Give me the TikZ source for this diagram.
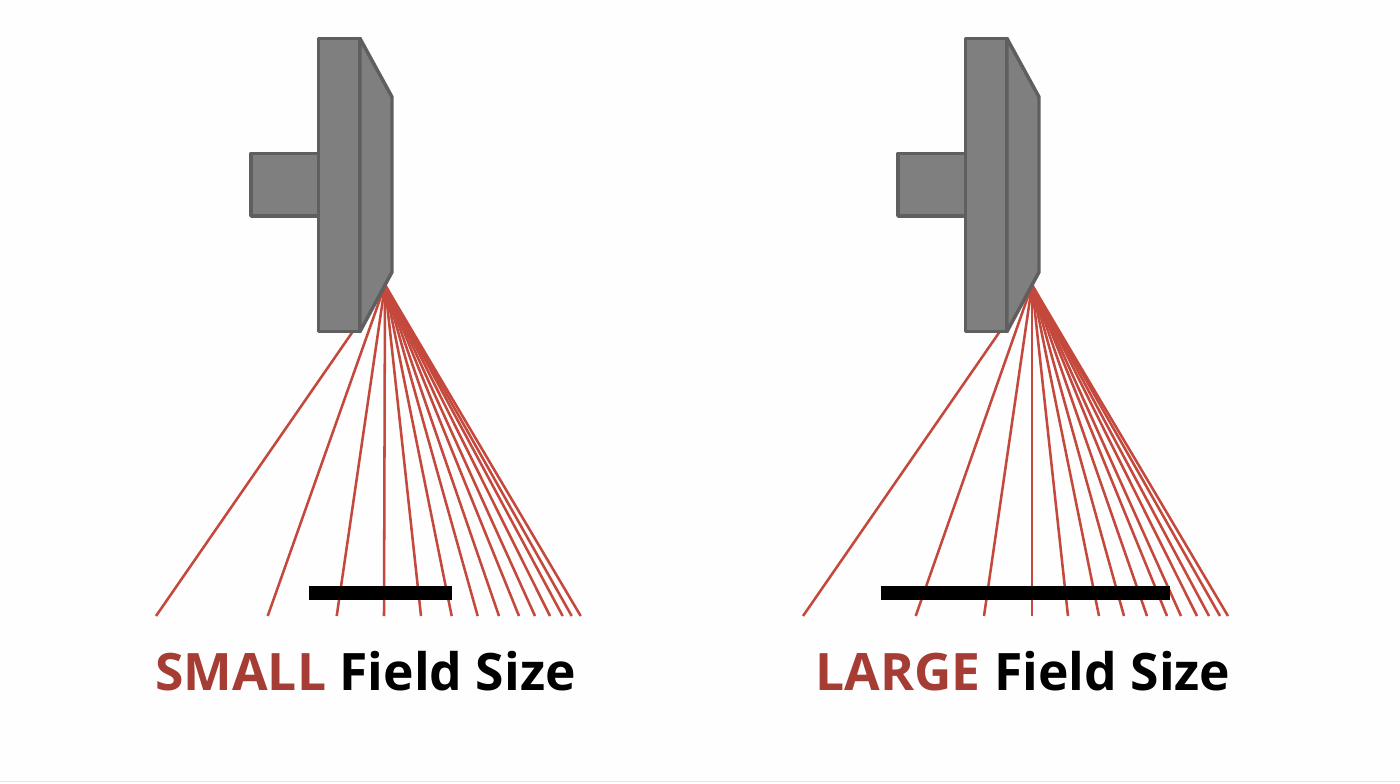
\documentclass[tikz,border=0pt]{standalone}
\usepackage{fontspec}
\setmainfont{Open Sans}
\definecolor{raycol}{HTML}{C4483C}
\definecolor{wordred}{HTML}{A53D35}
\definecolor{headfill}{HTML}{7F7F7F}
\definecolor{headline}{HTML}{5F5F5F}
\definecolor{pagebg}{HTML}{FEFEFE}
\definecolor{rulecol}{HTML}{E4E4E4}
\tikzset{
  x=0.75pt,y=-0.75pt,
  raystyle/.style={draw=raycol,line width=1.9pt},
  headstyle/.style={draw=headline,fill=headfill,line width=2.6pt,line join=round},
  barstyle/.style={fill=black,draw=none},
  caption/.style={inner sep=0pt,font=\fontsize{38.7}{44}\selectfont\bfseries,anchor=base west}
}
\begin{document}
\begin{tikzpicture}
\useasboundingbox (0,0) rectangle (1400,783);
\fill[pagebg] (0,0) rectangle (1400,783);
\fill[rulecol] (0,780.5) rectangle (1400,782);
% left unit
\coordinate (lsrc) at (385,285);
\foreach \e in {156,267.7,336.7,384,421,451.7,477.7,499,519,535,550,562.7,571.7,580.7}{
  \coordinate (lend) at (\e,616);
  \draw[raystyle] (lsrc) -- (lend);
}
\draw[headstyle] (251,153.5) rectangle (318.5,216);
\draw[headstyle] (318.5,38.5) rectangle (360,331.5);
\draw[headstyle] (360,38.5) -- (392,97) -- (392,272) -- (360,331.5) -- cycle;
\fill[barstyle] (309,586) rectangle (452,600);
\node[caption] (lcap) at (155,690.5) {\textcolor{wordred}{SMALL} \textcolor{black}{Field Size}};
% right unit
\coordinate (rsrc) at (1032,285);
\foreach \e in {803,915.7,984,1032,1068,1099,1124,1147,1167,1181,1197,1209,1220,1228}{
  \coordinate (rend) at (\e,616);
  \draw[raystyle] (rsrc) -- (rend);
}
\draw[headstyle] (898,153.5) rectangle (965.5,216);
\draw[headstyle] (965.5,38.5) rectangle (1007,331.5);
\draw[headstyle] (1007,38.5) -- (1039,97) -- (1039,272) -- (1007,331.5) -- cycle;
\fill[barstyle] (881,586) rectangle (1170,600);
\node[caption] (rcap) at (815.5,690.5) {\textcolor{wordred}{LARGE} \textcolor{black}{Field Size}};
\end{tikzpicture}
\end{document}
